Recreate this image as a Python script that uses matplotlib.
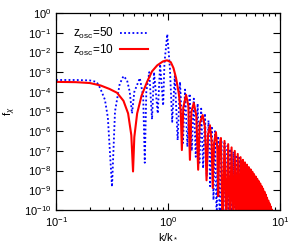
import numpy as np
import matplotlib
matplotlib.use("Agg")
import matplotlib.pyplot as plt

# =========================
# 1. DATA
# =========================
k_50 = [0.10, 0.15, 0.20, 0.23, 0.247, 0.273, 0.29, 0.316, 0.336, 0.37, 0.40,
        0.43, 0.455, 0.477, 0.50, 0.56, 0.60, 0.62, 0.64, 0.68, 0.72, 0.75,
        0.81, 0.85, 0.905, 0.93, 0.985, 1.04, 1.09, 1.15, 1.22, 1.28, 1.36,
        1.42, 1.49, 1.56, 1.63, 1.70, 1.77, 1.84, 1.91, 1.98, 2.06, 2.14,
        2.22, 2.30, 2.38, 2.46, 2.55, 2.63, 2.72, 2.81, 2.90, 3.00, 3.10,
        3.20, 3.30, 3.40, 3.50, 3.60, 3.72, 3.84, 3.96, 4.08, 4.20, 4.32,
        4.45, 4.58, 4.72, 4.86, 5.00, 5.15, 5.30, 5.45, 5.60, 5.80, 6.00,
        6.20, 6.40, 6.60, 6.80, 7.00, 7.30, 7.60, 8.00]
f_50 = [4.0e-4, 4.0e-4, 3.8e-4, 3.2e-4, 1.6e-4, 4.0e-5, 5.0e-6, 1.5e-9, 1.0e-5, 2.5e-4, 6.3e-4,
        4.0e-4, 1.0e-4, 8.0e-6, 1.0e-4, 5.0e-4, 6.0e-5, 2.5e-8, 1.0e-4, 1.0e-3, 4.0e-6, 1.0e-3,
        8.0e-6, 2.5e-3, 2.0e-5, 3.0e-3, 8.5e-2, 1.6e-3, 3.0e-6, 6.3e-4, 3.5e-7, 3.2e-4, 2.5e-7,
        1.3e-4, 1.6e-7, 8.0e-5, 1.0e-7, 4.5e-5, 5.0e-8, 2.5e-5, 2.5e-8, 1.4e-5, 1.3e-8, 8.0e-6,
        5.0e-9, 3.5e-6, 1.6e-9, 1.8e-6, 3.2e-10, 1.0e-6, 3.0e-11, 5.6e-7, 1e-11, 3.5e-7, 1e-11,
        2.5e-7, 1e-11, 1.8e-7, 1e-11, 1.25e-7, 1e-11, 9.0e-8, 1e-11, 6.3e-8, 1e-11, 4.5e-8,
        1e-11, 3.2e-8, 1e-11, 2.2e-8, 1e-11, 1.4e-8, 1e-11, 9.0e-9, 1e-11, 5.0e-9, 1e-11,
        2.8e-9, 1e-11, 1.6e-9, 1e-11, 8.0e-10, 1e-11, 2.5e-10, 1e-11]

k_10 = [0.10, 0.15, 0.20, 0.25, 0.30, 0.35, 0.40, 0.44, 0.47, 0.487, 0.50, 0.53,
        0.58, 0.65, 0.72, 0.80, 0.90, 0.98, 1.06, 1.12, 1.18, 1.25, 1.30, 1.33,
        1.37, 1.45, 1.52, 1.57, 1.62, 1.70, 1.79, 1.86, 1.92, 2.04, 2.14, 2.21,
        2.28, 2.37, 2.45, 2.51, 2.58, 2.68, 2.76, 2.81, 2.87, 2.97,
        3.07, 3.20, 3.32, 3.45, 3.57, 3.70, 3.82, 3.95, 4.07, 4.20, 4.32, 4.45, 4.57,
        4.67, 4.77, 4.87, 4.97, 5.07, 5.17, 5.27, 5.37, 5.47, 5.57,
        5.67, 5.77, 5.87, 5.97, 6.07, 6.17, 6.27, 6.37, 6.47, 6.57,
        6.67, 6.77, 6.87, 6.97, 7.07, 7.17, 7.27, 7.37, 7.47, 7.57,
        7.67, 7.77, 7.87, 7.97, 8.07, 8.17, 8.27, 8.37, 8.47, 8.57, 8.67, 8.77]
f_10 = [3.2e-4, 3.1e-4, 2.8e-4, 2.1e-4, 1.4e-4, 9.0e-5, 3.5e-5, 8.0e-6, 6.3e-7, 9.0e-9, 5.0e-7, 8.0e-6,
        6.3e-5, 3.2e-4, 1.1e-3, 2.2e-3, 3.5e-3, 4.0e-3, 3.2e-3, 1.6e-3, 5.0e-4, 8.0e-5, 1.0e-5, 1.1e-7,
        1.6e-5, 7.0e-5, 2.0e-5, 3.5e-8, 1.0e-5, 2.7e-5, 6.3e-6, 1.1e-8, 2.5e-6, 6.6e-6, 1.6e-6, 3.2e-9,
        6.3e-7, 2.0e-6, 3.2e-7, 1.3e-9, 2.5e-7, 9.0e-7, 1.3e-7, 5.0e-10, 1.3e-7, 4.5e-7,
        1e-11, 3.2e-7, 1e-11, 2.2e-7, 1e-11, 1.5e-7, 1e-11, 1.0e-7, 1e-11, 7.0e-8, 1e-11, 4.8e-8, 1e-11,
        3.5e-8, 1e-11, 2.6e-8, 1e-11, 2.0e-8, 1e-11, 1.5e-8, 1e-11, 1.15e-8, 1e-11,
        8.7e-9, 1e-11, 6.6e-9, 1e-11, 5.0e-9, 1e-11, 3.8e-9, 1e-11, 2.9e-9, 1e-11,
        2.2e-9, 1e-11, 1.6e-9, 1e-11, 1.2e-9, 1e-11, 8.5e-10, 1e-11, 6.0e-10, 1e-11,
        4.2e-10, 1e-11, 3.0e-10, 1e-11, 2.1e-10, 1e-11, 1.5e-10, 1e-11, 1.05e-10, 1e-11, 7.5e-11, 1e-11]

labels = [r"z$_{\mathrm{osc}}$=50", r"z$_{\mathrm{osc}}$=10"]

# =========================
# 2. FIGURE
# =========================
plt.rcParams["font.family"] = ["Liberation Sans", "DejaVu Sans"]
plt.rcParams["mathtext.fontset"] = "custom"
plt.rcParams["mathtext.rm"] = "Liberation Sans"
plt.rcParams["mathtext.it"] = "Liberation Sans:italic"
plt.rcParams["font.size"] = 8

fig = plt.figure(figsize=(3.0, 2.52), dpi=100)
ax = fig.add_axes([0.187, 0.167, 0.746, 0.781])

ax.plot(k_50, f_50, color="#0000ff", lw=1.3, ls=(0, (1, 1.3)), label=labels[0])
ax.plot(k_10, f_10, color="#ff0000", lw=1.5, label=labels[1])

ax.set_xscale("log")
ax.set_yscale("log")
ax.set_xlim(0.1, 10)
ax.set_ylim(1e-10, 1)
ax.set_yticks([10.0 ** p for p in range(-10, 1)])
ax.yaxis.set_minor_locator(matplotlib.ticker.LogLocator(base=10, subs=np.arange(2, 10)))
ax.yaxis.set_minor_formatter(matplotlib.ticker.NullFormatter())

ax.tick_params(which="both", direction="in", top=True, right=True, width=0.8, labelsize=8)
ax.tick_params(which="major", length=5)
ax.tick_params(which="minor", length=2.5)
for s in ax.spines.values():
    s.set_linewidth(0.9)

ax.set_xlabel(r"k/k$_*$", fontsize=8, labelpad=2)
ax.set_ylabel(r"f$_\chi$", fontsize=8, labelpad=4)

ax.legend(loc="upper left", bbox_to_anchor=(0.03, 0.99), frameon=False, markerfirst=False,
          handlelength=2.4, handletextpad=0.5, labelspacing=0.15, fontsize=8.5)

fig.savefig("out.png", dpi=100)
